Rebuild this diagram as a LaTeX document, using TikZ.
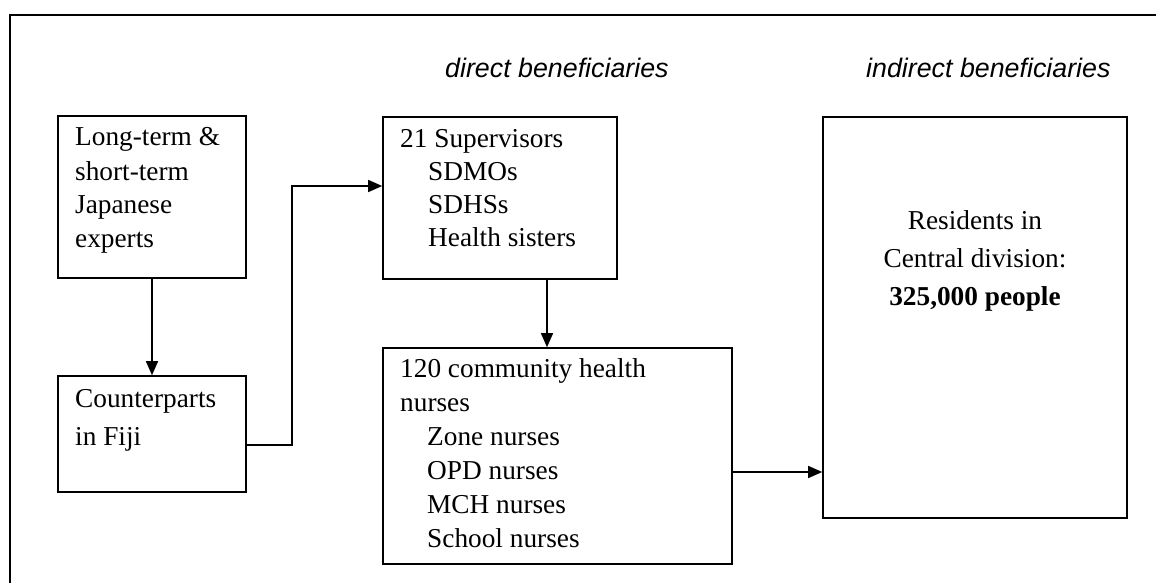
\documentclass[tikz,border=0pt]{standalone}
\usepackage{fontspec}
\setmainfont{Liberation Serif}
\newfontfamily\hdrfont{Liberation Sans}
\usetikzlibrary{arrows.meta}
\begin{document}
\begin{tikzpicture}[x=1pt,y=-1pt,
  boxstyle/.style={draw, line width=1.6pt, rectangle, inner sep=0pt},
  txt/.style={anchor=base west, inner sep=0pt, font=\fontsize{27.3}{33}\selectfont},
  ctxt/.style={anchor=base, inner sep=0pt, font=\fontsize{27.3}{33}\selectfont},
  hdr/.style={anchor=base west, inner sep=0pt, font=\hdrfont\itshape\fontsize{26.8}{30}\selectfont},
  arr/.style={line width=1.4pt, -{Triangle[length=14pt,width=12pt]}},
  frame/.style={line width=1.8pt}]
\useasboundingbox (0,0) rectangle (1156,583);
\fill[white] (0,0) rectangle (1156,583);
% outer frame (open at right and bottom)
\coordinate (fl) at (10,583);
\coordinate (ftl) at (10,15);
\coordinate (fr) at (1156,15);
\draw[frame] (fl) -- (ftl) -- (fr);
% headers
\node[hdr] (h1) at (445,78) {direct beneficiaries};
\node[hdr] (h2) at (866,78) {indirect beneficiaries};
% boxes
\node[boxstyle, minimum width=188pt, minimum height=162pt] (A) at (152,197) {};
\node[boxstyle, minimum width=188pt, minimum height=116pt] (B) at (152,434) {};
\node[boxstyle, minimum width=234pt, minimum height=162pt] (C) at (500,198) {};
\node[boxstyle, minimum width=349pt, minimum height=216pt] (D) at (557.5,456) {};
\node[boxstyle, minimum width=304pt, minimum height=401pt] (E) at (975,317.5) {};
% box texts
\node[txt] (a1) at (75,146) {Long-term \&};
\node[txt] (a2) at (75,180) {short-term};
\node[txt] (a3) at (75,213) {Japanese};
\node[txt] (a4) at (75,247) {experts};
\node[txt] (b1) at (75,407) {Counterparts};
\node[txt] (b2) at (75,445) {in Fiji};
\node[txt] (c1) at (400,147) {21 Supervisors};
\node[txt] (c2) at (428,180) {SDMOs};
\node[txt] (c3) at (428,213) {SDHSs};
\node[txt] (c4) at (428,246) {Health sisters};
\node[txt] (d1) at (400,377) {120 community health};
\node[txt] (d2) at (400,411) {nurses};
\node[txt] (d3) at (427,445) {Zone nurses};
\node[txt] (d4) at (427,479) {OPD nurses};
\node[txt] (d5) at (427,513) {MCH nurses};
\node[txt] (d6) at (427,547) {School nurses};
\node[ctxt] (e1) at (975,229) {Residents in};
\node[ctxt] (e2) at (975,267) {Central division:};
\node[ctxt] (e3) at (975,305) {\bfseries 325,000 people};
% connectors
\draw[arr] (A) -- (B);
\coordinate (bc) at (292,186);
\draw[arr] ([yshift=-11pt]B.east) -| (bc) -- ([yshift=12pt]C.west);
\coordinate (cd) at (547,0);
\draw[arr] (C.south -| cd) -- (D.north -| cd);
\coordinate (de) at (0,472);
\draw[arr] (D.east |- de) -- (E.west |- de);
\end{tikzpicture}
\end{document}
